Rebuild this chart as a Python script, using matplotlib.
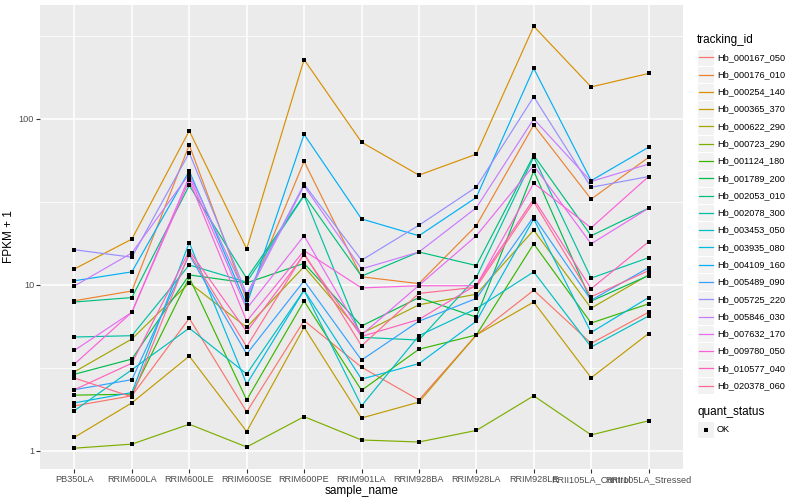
import matplotlib
matplotlib.use("Agg")
import matplotlib.pyplot as plt
from matplotlib.lines import Line2D
from matplotlib.patches import Rectangle
from matplotlib.ticker import FixedLocator, NullFormatter

plt.rcParams['font.family'] = ['Liberation Sans', 'DejaVu Sans']

samples = ["PB350LA", "RRIM600LA", "RRIM600LE", "RRIM600SE", "RRIM600PE", "RRIM901LA",
           "RRIM928BA", "RRIM928LA", "RRIM928LE", "RRII105LA_Control", "RRII105LA_Stressed"]

tracking_ids = ["Hb_000167_050", "Hb_000176_010", "Hb_000254_140", "Hb_000365_370",
                "Hb_000622_290", "Hb_000723_290", "Hb_001124_180", "Hb_001789_200",
                "Hb_002053_010", "Hb_002078_300", "Hb_003453_050", "Hb_003935_080",
                "Hb_004109_160", "Hb_005489_090", "Hb_005725_220", "Hb_005846_030",
                "Hb_007632_170", "Hb_009780_050", "Hb_010577_040", "Hb_020378_060"]

colors = ["#F8766D", "#EA8331", "#D89000", "#C09B00", "#A3A500", "#7CAE00", "#39B600",
          "#00BB4E", "#00BF7D", "#00C1A3", "#00BFC4", "#00BAE0", "#00B0F6", "#35A2FF",
          "#9590FF", "#C77CFF", "#E76BF3", "#FA62DB", "#FF62BC", "#FF6C91"]

# FPKM + 1 values, one list per tracking_id, in sample order
v_000167_050 = [1.87, 2.15, 6.3, 1.72, 6.1, 3.2, 2.03, 5.0, 9.3, 4.45, 6.85]
v_000176_010 = [8.04, 9.2, 69.7, 8.1, 55.6, 11.2, 10.2, 22.8, 92, 32.9, 58.7]
v_000254_140 = [12.5, 18.9, 84.9, 16.5, 228, 72.5, 45.9, 61.4, 362, 156, 188]
v_000365_370 = [1.21, 1.95, 3.73, 1.31, 5.56, 1.58, 1.97, 5.0, 7.9, 2.76, 5.1]
v_000622_290 = [3.0, 4.73, 10.3, 5.56, 12.9, 5.1, 7.6, 8.8, 21.4, 7.25, 11.5]
v_000723_290 = [1.04, 1.1, 1.45, 1.057, 1.61, 1.165, 1.133, 1.33, 2.15, 1.25, 1.52]
v_001124_180 = [2.17, 2.2, 11.1, 2.03, 8.0, 2.32, 4.1, 5.0, 17.7, 5.9, 7.7]
v_001789_200 = [2.9, 3.58, 11.5, 10.3, 13.5, 5.66, 8.4, 6.4, 48.6, 8.0, 11.4]
v_002053_010 = [7.9, 8.4, 39.8, 10.95, 34.8, 11.3, 15.8, 13.1, 60.5, 19.8, 29]
v_002078_300 = [4.86, 4.95, 13.2, 10.4, 34.5, 4.84, 4.66, 11.1, 59, 11.0, 14.6]
v_003453_050 = [1.75, 3.09, 5.5, 2.91, 9.3, 1.87, 4.95, 7.2, 12.0, 4.23, 6.5]
v_003935_080 = [1.95, 2.25, 18, 2.53, 9.3, 2.71, 3.36, 6.05, 25, 5.18, 8.4]
v_004109_160 = [10.6, 12.0, 48.6, 7.6, 80.8, 25, 19.8, 33.7, 202, 42.5, 67.6]
v_005489_090 = [2.34, 2.69, 15.2, 3.84, 10.6, 3.53, 6.05, 8.3, 25.8, 8.1, 12.7]
v_005725_220 = [16.3, 14.7, 62.6, 8.8, 40.5, 14.1, 22.9, 38.9, 136, 38.8, 45]
v_005846_030 = [9.86, 15.6, 46.6, 8.5, 39.6, 12.5, 15.8, 29.2, 100, 42, 53.5]
v_007632_170 = [4.04, 6.85, 44.9, 7.2, 19.8, 5.0, 9.95, 19.8, 52.4, 17.7, 29]
v_009780_050 = [3.34, 6.85, 42.8, 6.05, 16.1, 9.6, 9.9, 9.9, 41, 22.1, 45]
v_010577_040 = [2.34, 3.38, 16.1, 5.23, 15.2, 4.9, 6.2, 10.0, 33, 9.5, 18.2]
v_020378_060 = [2.75, 2.12, 15.6, 4.25, 15.5, 4.3, 8.9, 9.7, 31.7, 8.5, 12.2]

series = [v_000167_050, v_000176_010, v_000254_140, v_000365_370, v_000622_290,
          v_000723_290, v_001124_180, v_001789_200, v_002053_010, v_002078_300,
          v_003453_050, v_003935_080, v_004109_160, v_005489_090, v_005725_220,
          v_005846_030, v_007632_170, v_009780_050, v_010577_040, v_020378_060]

W, H = 800, 500
fig = plt.figure(figsize=(W / 100, H / 100), dpi=100)
fig.patch.set_facecolor("white")
L, R, T, B = 40, 683, 5, 469
ax = fig.add_axes([L / W, 1 - B / H, (R - L) / W, (B - T) / H])
ax.set_facecolor("#EBEBEB")
for s in ax.spines.values():
    s.set_visible(False)

x = list(range(len(samples)))
for vals, c in zip(series, colors):
    ax.plot(x, vals, color=c, lw=0.85, zorder=2, solid_capstyle="butt")
for vals in series:
    ax.plot(x, vals, ls="none", marker="s", ms=3.2, color="black", mew=0, zorder=3)

ax.set_yscale("log")
ax.set_ylim(10 ** (-18 / 166), 10 ** (446 / 166))
ax.set_xlim(-0.6, len(samples) - 1 + 0.6)
ax.yaxis.set_major_locator(FixedLocator([1, 10, 100]))
ax.yaxis.set_minor_locator(FixedLocator([10 ** 0.5, 10 ** 1.5, 10 ** 2.5]))
ax.yaxis.set_minor_formatter(NullFormatter())
ax.set_yticklabels(["1", "10", "100"])
ax.set_xticks(x)
ax.set_xticklabels(samples)
ax.grid(which="major", color="white", lw=1.1, zorder=0)
ax.grid(which="minor", axis="y", color="white", lw=0.55, zorder=0)
ax.set_axisbelow(True)
ax.tick_params(which="major", length=2.75, width=0.8, color="#333333",
               labelsize=6.6, labelcolor="#4D4D4D", pad=1.5)
ax.tick_params(which="minor", length=0)

ax.set_xlabel("sample_name", fontsize=8.5, color="black", labelpad=1)
ax.set_ylabel("FPKM + 1", fontsize=8.5, color="black", labelpad=2.5)

# legend (drawn manually in figure pixel coordinates)
def fx(px):
    return px / W

def fy(py):
    return 1 - py / H

fig.text(fx(697), fy(40.5), "tracking_id", fontsize=8.5, va="center", ha="left")
step = 17.28
for i, (name, c) in enumerate(zip(tracking_ids, colors)):
    yc = 57.3 + i * step
    fig.patches.append(Rectangle((fx(697), fy(yc + step / 2)), 17 / W, step / H,
                                 transform=fig.transFigure, fc="#F2F2F2", ec="white", lw=0.8))
    fig.lines.append(Line2D([fx(698.5), fx(712.5)], [fy(yc), fy(yc)], color=c, lw=0.9,
                            transform=fig.transFigure))
    fig.text(fx(717), fy(yc), name, fontsize=6.6, va="center", ha="left")

fig.text(fx(697), fy(412), "quant_status", fontsize=8.5, va="center", ha="left")
yc = 429.5
fig.patches.append(Rectangle((fx(697), fy(yc + step / 2)), 17 / W, step / H,
                             transform=fig.transFigure, fc="#F2F2F2", ec="white", lw=0.8))
fig.lines.append(Line2D([fx(705.5)], [fy(yc)], marker="s", ms=3.2, color="black", mew=0,
                        transform=fig.transFigure))
fig.text(fx(717), fy(yc), "OK", fontsize=6.6, va="center", ha="left")

fig.savefig("out.png", dpi=100)
